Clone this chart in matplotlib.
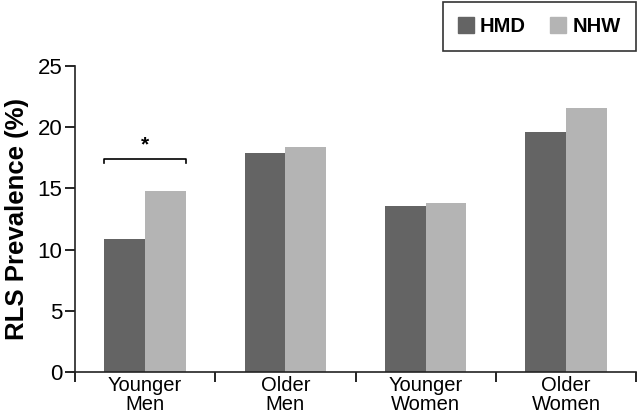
import numpy as np
import matplotlib
matplotlib.use("Agg")
import matplotlib.pyplot as plt
from matplotlib.patches import Patch

categories = ["Younger\nMen", "Older\nMen", "Younger\nWomen", "Older\nWomen"]
hmd = [10.9, 17.9, 13.6, 19.6]
nhw = [14.8, 18.4, 13.8, 21.6]
series_names = ["HMD", "NHW"]
colors = ["#646464", "#b4b4b4"]

plt.rcParams['font.family'] = ['Liberation Sans', 'DejaVu Sans']

fig = plt.figure(figsize=(6.4, 4.18), dpi=100)
ax = fig.add_axes([0.117, 0.110, 0.877, 0.732])

x = np.arange(len(categories))
w = 0.29
ax.bar(x - w / 2, hmd, w, color=colors[0])
ax.bar(x + w / 2, nhw, w, color=colors[1])

ax.set_xlim(-0.5, len(categories) - 0.5)
ax.set_ylim(0, 25)
ax.set_yticks([0, 5, 10, 15, 20, 25])

# boundary ticks as major, labels on minor ticks
ax.set_xticks(np.arange(len(categories) + 1) - 0.5)
ax.set_xticklabels([])
ax.set_xticks(x, minor=True)
ax.set_xticklabels(categories, minor=True, fontsize=14.5, linespacing=1.0)
ax.tick_params(axis='x', which='minor', length=0, pad=3)
ax.tick_params(axis='x', which='major', length=7, width=1.2, direction='out')
ax.tick_params(axis='y', length=7, width=1.2, labelsize=16, pad=2)

for s in ['top', 'right']:
    ax.spines[s].set_visible(False)
for s in ['left', 'bottom']:
    ax.spines[s].set_linewidth(1.2)
    ax.spines[s].set_color('#222222')

ax.set_ylabel("RLS Prevalence (%)", fontsize=18.5, fontweight='bold', labelpad=6)

# significance bracket over Younger Men
bx0, bx1, by = x[0] - w, x[0] + w, 17.4
ax.plot([bx0, bx0, bx1, bx1], [by - 0.35, by, by, by - 0.35], color='black', lw=1.2)
ax.text(x[0], by + 0.4, "*", ha='center', va='bottom', fontsize=15, fontweight='bold')

handles = [Patch(color=c, label=n) for c, n in zip(colors, series_names)]
leg = fig.legend(handles=handles, loc='upper right', bbox_to_anchor=(0.993, 0.995),
                 ncol=2, frameon=True, fancybox=False, edgecolor='black',
                 handlelength=0.8, handleheight=0.8, handletextpad=0.3,
                 columnspacing=1.2, borderpad=0.75, borderaxespad=0,
                 prop={'weight': 'bold', 'size': 14.5})
leg.get_frame().set_linewidth(1.2)

fig.savefig("out.png", dpi=100)
